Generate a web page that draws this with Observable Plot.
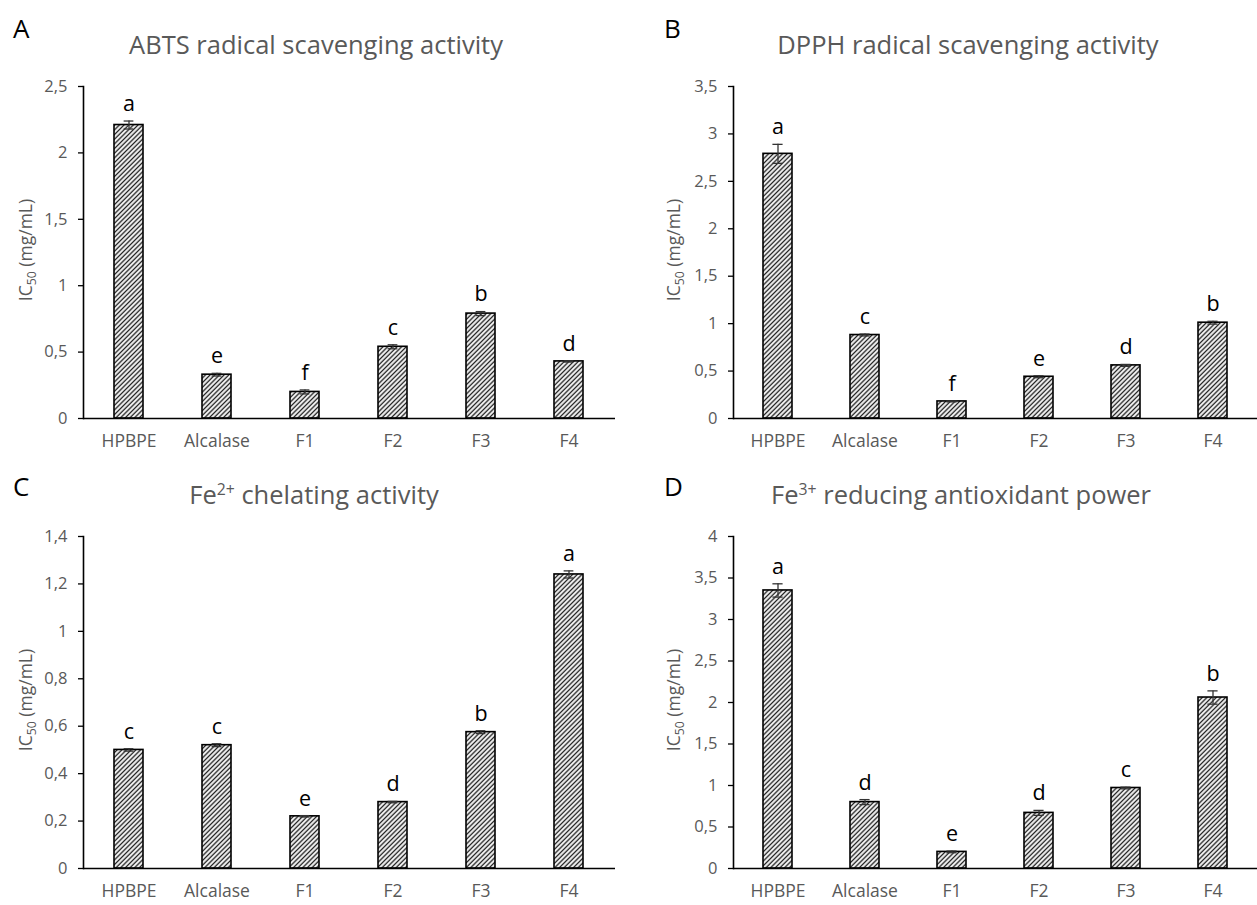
<!DOCTYPE html>
<html>
<head>
<meta charset="utf-8">
<script src="https://cdn.jsdelivr.net/npm/d3@7"></script>
<script src="https://cdn.jsdelivr.net/npm/@observablehq/plot@0.6"></script>
<style>
  html, body { margin: 0; padding: 0; background: #fff; }
  #root { position: relative; width: 1257px; height: 905px; overflow: hidden; font-family: "Open Sans", Lato, sans-serif; }
  .panel { position: absolute; }
  .letter { position: absolute; font-size: 26px; color: #000; line-height: 1; }
  .title { position: absolute; font-size: 25.5px; color: #595959; line-height: 1; white-space: nowrap; transform: translate(-50%, -50%); }
  .title sup { font-size: 0.62em; vertical-align: 0; position: relative; top: -0.55em; }
  .ylab { position: absolute; font-size: 17.5px; color: #595959; white-space: nowrap; transform: translate(-50%, -50%) rotate(-90deg); line-height: 1; }
  .ylab sub { font-size: 0.7em; vertical-align: 0; position: relative; top: 0.3em; }
</style>
</head>
<body>
<div id="root"></div>
<script>
const categories = ["HPBPE", "Alcalase", "F1", "F2", "F3", "F4"];

const abtsValues  = [2.21, 0.33, 0.20, 0.54, 0.79, 0.43];
const abtsErrors  = [0.03, 0.01, 0.015, 0.015, 0.015, 0.005];
const abtsLetters = ["a", "e", "f", "c", "b", "d"];
const abtsTicks   = [0, 0.5, 1, 1.5, 2, 2.5];

const dpphValues  = [2.79, 0.88, 0.18, 0.44, 0.56, 1.01];
const dpphErrors  = [0.10, 0.01, 0.005, 0.01, 0.01, 0.015];
const dpphLetters = ["a", "c", "f", "e", "d", "b"];
const dpphTicks   = [0, 0.5, 1, 1.5, 2, 2.5, 3, 3.5];

const fe2Values  = [0.50, 0.52, 0.22, 0.28, 0.575, 1.24];
const fe2Errors  = [0.005, 0.006, 0.003, 0.003, 0.006, 0.015];
const fe2Letters = ["c", "c", "e", "d", "b", "a"];
const fe2Ticks   = [0, 0.2, 0.4, 0.6, 0.8, 1, 1.2, 1.4];

const fe3Values  = [3.35, 0.80, 0.20, 0.67, 0.97, 2.06];
const fe3Errors  = [0.08, 0.03, 0.01, 0.03, 0.01, 0.08];
const fe3Letters = ["a", "d", "e", "d", "c", "b"];
const fe3Ticks   = [0, 0.5, 1, 1.5, 2, 2.5, 3, 3.5, 4];

const panels = [
  {id: "A", title: "ABTS radical scavenging activity", values: abtsValues, errors: abtsErrors, letters: abtsLetters, ticks: abtsTicks,
   left: 0, top: 0, width: 628, marginRight: 13, titleX: 316, titleY: 45, letterX: 13, letterY: 15, ylabX: 26, ylabY: 250},
  {id: "B", title: "DPPH radical scavenging activity", values: dpphValues, errors: dpphErrors, letters: dpphLetters, ticks: dpphTicks,
   left: 650, top: 0, width: 607, marginRight: 0, titleX: 968, titleY: 45, letterX: 664, letterY: 15, ylabX: 674, ylabY: 250},
  {id: "C", title: "Fe<sup>2+</sup> chelating activity", values: fe2Values, errors: fe2Errors, letters: fe2Letters, ticks: fe2Ticks,
   left: 0, top: 450, width: 628, marginRight: 13, titleX: 314, titleY: 495, letterX: 13, letterY: 473, ylabX: 26, ylabY: 700},
  {id: "D", title: "Fe<sup>3+</sup> reducing antioxidant power", values: fe3Values, errors: fe3Errors, letters: fe3Letters, ticks: fe3Ticks,
   left: 650, top: 450, width: 607, marginRight: 0, titleX: 961, titleY: 495, letterX: 664, letterY: 473, ylabX: 674, ylabY: 700}
];

const root = document.getElementById("root");
const fmt = d => String(d).replace(".", ",");

panels.forEach((p, i) => {
  const data = categories.map((c, k) => ({cat: c, v: p.values[k], e: p.errors[k], l: p.letters[k]}));
  const ymax = p.ticks[p.ticks.length - 1];
  const marginLeft = 83;
  const plotW = p.width - marginLeft - p.marginRight;
  const padInner = 0.67;
  const step = plotW / 6;
  const bw = step * (1 - padInner);
  const capInset = (bw - 10) / 2;
  const pid = "hatch" + p.id;

  const chart = Plot.plot({
    width: p.width,
    height: 455,
    marginLeft,
    marginRight: p.marginRight,
    marginTop: 86,
    marginBottom: 37,
    style: {fontFamily: "'Open Sans', Lato, sans-serif", fontSize: "15px", background: "transparent", overflow: "visible"},
    x: {domain: categories, paddingInner: padInner, paddingOuter: padInner / 2, label: null},
    y: {domain: [0, ymax], label: null},
    marks: [
      Plot.barY(data, {x: "cat", y: "v", fill: `url(#${pid})`, stroke: "#000", strokeWidth: 1.6}),
      Plot.ruleX(data, {x: "cat", y1: d => d.v - d.e, y2: d => d.v + d.e, stroke: "#333", strokeWidth: 1.3}),
      Plot.tickY(data, {x: "cat", y: d => d.v + d.e, stroke: "#333", strokeWidth: 1.3, insetLeft: capInset, insetRight: capInset}),
      Plot.tickY(data, {x: "cat", y: d => d.v - d.e, stroke: "#333", strokeWidth: 1.3, insetLeft: capInset, insetRight: capInset}),
      Plot.text(data, {x: "cat", y: d => d.v + d.e, text: "l", dy: -17, fontSize: 21.5, fill: "#000"}),
      Plot.axisY({ticks: p.ticks, tickFormat: fmt, tickSize: 5, tickPadding: 11, stroke: "#000", strokeWidth: 1.3, fill: "#595959", fontSize: 16.5, label: null}),
      Plot.axisX({tickSize: 0, tickPadding: 16, fill: "#595959", fontSize: 17.5, label: null}),
      Plot.ruleY([0], {stroke: "#000", strokeWidth: 1.6}),
      Plot.frame({anchor: "left", stroke: "#000", strokeWidth: 1.6})
    ]
  });

  // hatch pattern
  const svg = d3.select(chart);
  const defs = svg.insert("defs", ":first-child");
  const pat = defs.append("pattern")
    .attr("id", pid)
    .attr("patternUnits", "userSpaceOnUse")
    .attr("width", 3.3)
    .attr("height", 3.3)
    .attr("patternTransform", "rotate(45)");
  pat.append("rect").attr("width", 3.3).attr("height", 3.3).attr("fill", "#fff");
  pat.append("line").attr("x1", 1.2).attr("y1", 0).attr("x2", 1.2).attr("y2", 3.3)
    .attr("stroke", "#1a1a1a").attr("stroke-width", 1.35);

  const wrap = document.createElement("div");
  wrap.className = "panel";
  wrap.style.left = p.left + "px";
  wrap.style.top = p.top + "px";
  wrap.appendChild(chart);
  root.appendChild(wrap);

  const letter = document.createElement("div");
  letter.className = "letter";
  letter.style.left = p.letterX + "px";
  letter.style.top = p.letterY + "px";
  letter.textContent = p.id;
  root.appendChild(letter);

  const title = document.createElement("div");
  title.className = "title";
  title.style.left = p.titleX + "px";
  title.style.top = p.titleY + "px";
  title.innerHTML = p.title;
  root.appendChild(title);

  const ylab = document.createElement("div");
  ylab.className = "ylab";
  ylab.style.left = p.ylabX + "px";
  ylab.style.top = p.ylabY + "px";
  ylab.innerHTML = "IC<sub>50</sub> (mg/mL)";
  root.appendChild(ylab);
});
</script>
</body>
</html>
